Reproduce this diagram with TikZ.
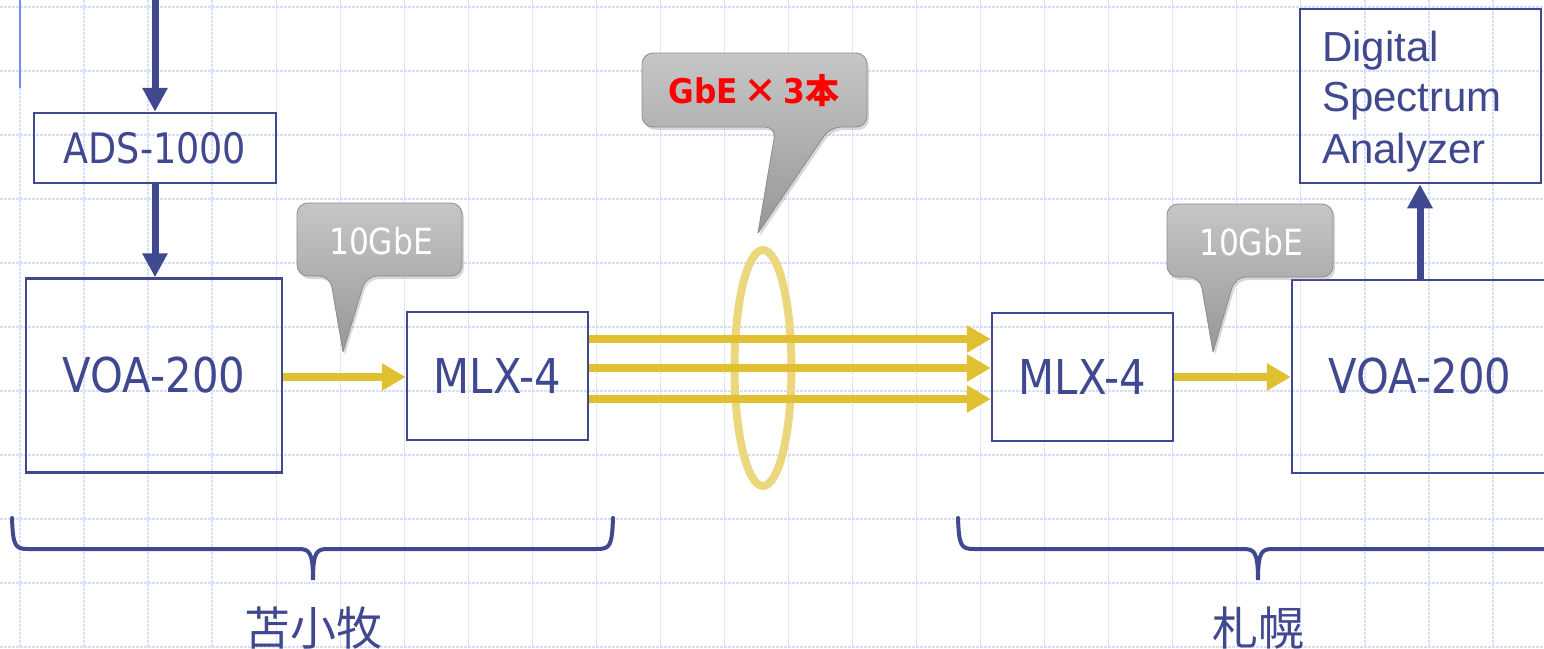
\documentclass[tikz,border=0pt]{standalone}
\usepackage{fontspec}
\newfontfamily\tah[FakeStretch=0.87]{DejaVu Sans}
\newfontfamily\tahb[FakeStretch=0.92]{DejaVu Sans Bold}
\newfontfamily\ari{Liberation Sans}
\newfontfamily\cjk{Noto Sans CJK JP}
\usetikzlibrary{arrows.meta,shapes.geometric,shadows}
\definecolor{navy}{HTML}{404890}
\definecolor{gold}{HTML}{E0BF30}
\definecolor{paleGold}{HTML}{EDD77E}
\definecolor{gridblue}{HTML}{D6E0FA}
\definecolor{edgeblue}{HTML}{6F8EF0}
\definecolor{cgtop}{HTML}{C6C6C6}
\definecolor{cgbot}{HTML}{979797}
\definecolor{cgline}{HTML}{8C8C8C}
\begin{document}
\begin{tikzpicture}[x=1pt,y=-1pt,
  gridline/.style={draw=gridblue, line width=1.3pt, dash pattern=on 2.5pt off 1.5pt},
  box/.style={draw=navy, line width=2.5pt, inner sep=0pt, text=navy, font=\tah\fontsize{48}{56}\selectfont},
  navyarrow/.style={draw=navy, line width=7pt, -{Triangle[length=24pt,width=24pt]}},
  goldarrow/.style={draw=gold, line width=8pt, -{Triangle[length=24pt,width=26pt]}},
  calloutshape/.style={top color=cgtop, bottom color=cgbot, draw=cgline, line width=0.8pt, rounded corners=11pt, drop shadow={opacity=0.3,shadow xshift=2pt,shadow yshift=-3pt}},
  callouttext/.style={text=white, inner sep=0pt, font=\tah\fontsize{36}{42}\selectfont},
  bracepath/.style={draw=navy, line width=4pt, line cap=round},
  placelabel/.style={text=navy, inner sep=0pt, anchor=base, font=\cjk\fontsize{46}{52}\selectfont},
  dsatext/.style={text=navy, inner sep=0pt, anchor=base west, font=\ari\fontsize{42}{51}\selectfont}
]
\useasboundingbox (0,0) rectangle (1544,648);
\clip (0,0) rectangle (1544,648);
\fill[white] (0,0) rectangle (1544,648);
% grid
\foreach \i in {0,...,23} \draw[gridline] ({20+64.04*\i},0) -- ({20+64.04*\i},648);
\foreach \j in {0,...,10} \draw[gridline] (0,{7+64*\j}) -- (1544,{7+64*\j});
\draw[edgeblue, line width=2pt] (20,0) -- (20,88);

% boxes
\node[box, minimum width=242pt, minimum height=70pt, font=\tah\fontsize{42}{48}\selectfont] (ads) at (155,148) {ADS-1000};
\node[box, minimum width=256pt, minimum height=194pt] (voaL) at (154,375.5) {VOA-200};
\node[box, minimum width=181pt, minimum height=128pt] (mlxL) at (497.5,376) {MLX-4};
\node[box, minimum width=181pt, minimum height=128pt] (mlxR) at (1082.5,377) {MLX-4};
\node[box, minimum width=256pt, minimum height=193pt] (voaR) at (1420,376.5) {VOA-200};
\node[box, minimum width=241pt, minimum height=174pt] (dsa) at (1420.5,96) {};
\node[dsatext] (dsa1) at (1322,61) {Digital};
\node[dsatext] (dsa2) at (1322,111) {Spectrum};
\node[dsatext] (dsa3) at (1322,163) {Analyzer};

% bundle ellipse
\node[draw=paleGold, line width=8pt, ellipse, minimum width=57pt, minimum height=236pt, inner sep=0pt] (bundle) at (763,368) {};

% navy arrows
\coordinate (topin) at (155,-6);
\draw[navyarrow] (topin) -- (ads.north);
\draw[navyarrow] (ads.south) -- (voaL.north -| ads.south);
\draw[navyarrow] (voaR.north) -- (dsa.south -| voaR.north);

% gold arrows
\draw[goldarrow] (voaL.east |- 0,377) -- (mlxL.west |- 0,377);
\draw[goldarrow] (mlxL.east |- 0,339) -- (mlxR.west |- 0,339);
\draw[goldarrow] (mlxL.east |- 0,368) -- (mlxR.west |- 0,368);
\draw[goldarrow] (mlxL.east |- 0,399) -- (mlxR.west |- 0,399);
\draw[goldarrow] (mlxR.east) -- (voaR.west |- mlxR.east);

% callouts
\path[calloutshape] (343,352) -- (366,276) -- (462,276) -- (462,203) -- (297,203) -- (297,276) -- (330,276) -- (343,352);
\node[callouttext] (c1t) at (381,241) {10GbE};
\path[calloutshape] (1213,352) -- (1235,277) -- (1333,277) -- (1333,204) -- (1167,204) -- (1167,277) -- (1200,277) -- (1213,352);
\node[callouttext] (c2t) at (1251,242) {10GbE};
\path[calloutshape] (758,233) -- (830,127) -- (867,127) -- (867,53) -- (642,53) -- (642,127) -- (776,127) -- (758,233);
\node[text=red, inner sep=0pt, font=\fontsize{34}{40}\selectfont] (c3t) at (754,91) {{\tahb GbE}{\cjk\bfseries\,×\,}{\tahb 3}{\cjk\bfseries 本}};

% braces
\draw[bracepath] (12,518) .. controls (13,546) and (15,549) .. (28,549) -- (298,549) .. controls (309,549) and (313,551) .. (313,580) .. controls (313,551) and (317,549) .. (328,549) -- (597,549) .. controls (610,549) and (612,546) .. (613,518);
\draw[bracepath] (958,518) .. controls (959,546) and (961,549) .. (974,549) -- (1243,549) .. controls (1254,549) and (1258,551) .. (1258,580) .. controls (1258,551) and (1262,549) .. (1273,549) -- (1560,549);
\node[placelabel] (tomakomai) at (313,645) {苫小牧};
\node[placelabel] (sapporo) at (1258,645) {札幌};
\end{tikzpicture}
\end{document}
